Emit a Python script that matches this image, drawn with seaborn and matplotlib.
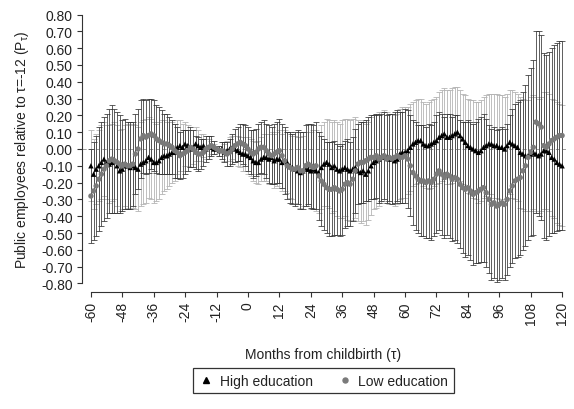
import numpy as np
import pandas as pd
import matplotlib
matplotlib.use("Agg")
import matplotlib.pyplot as plt
from matplotlib.lines import Line2D
import seaborn as sns

# Months from childbirth (tau = -60 ... 120)
months = list(range(-60, 121))

# High education: point estimates
high_est = [
    -0.10, -0.15, -0.12, -0.10, -0.08, -0.06, -0.08, -0.09, -0.08, -0.07, -0.10, -0.13,
    -0.12, -0.10, -0.10, -0.11, -0.10, -0.11, -0.12, -0.09, -0.08, -0.07, -0.05, -0.06,
    -0.08, -0.08, -0.07, -0.05, -0.04, -0.04, -0.03, -0.02, -0.02, 0.01, 0.02, 0.01,
    0.03, 0.02, 0.00, 0.01, 0.03, 0.02, 0.01, 0.02, 0.00, 0.01, 0.01, 0.00,
    0.00, -0.01, 0.00, -0.02, -0.01, 0.00, 0.01, 0.00, -0.01, -0.02, -0.03, -0.03,
    -0.04, -0.05, -0.07, -0.08, -0.08, -0.06, -0.05, -0.05, -0.06, -0.05, -0.07, -0.06,
    -0.06, -0.08, -0.07, -0.08, -0.10, -0.11, -0.12, -0.13, -0.14, -0.13, -0.12, -0.12,
    -0.13, -0.12, -0.13, -0.14, -0.11, -0.09, -0.08, -0.09, -0.11, -0.10, -0.12, -0.13,
    -0.12, -0.11, -0.12, -0.13, -0.12, -0.11, -0.13, -0.14, -0.13, -0.15, -0.13, -0.10,
    -0.08, -0.07, -0.06, -0.05, -0.04, -0.05, -0.06, -0.06, -0.07, -0.06, -0.03, -0.02,
    -0.02, -0.01, 0.01, 0.03, 0.04, 0.05, 0.05, 0.03, 0.02, 0.02, 0.03, 0.04,
    0.05, 0.07, 0.08, 0.09, 0.07, 0.07, 0.08, 0.09, 0.10, 0.08, 0.06, 0.04,
    0.02, 0.01, 0.00, -0.01, -0.02, -0.01, 0.01, 0.02, 0.03, 0.03, 0.02, 0.02,
    0.01, 0.01, 0.00, 0.02, 0.04, 0.03, 0.02, 0.01, -0.02, -0.03, -0.04, -0.04,
    -0.03, -0.02, -0.03, -0.04, -0.03, -0.01, -0.01, -0.02, -0.05, -0.06, -0.08, -0.09,
    -0.10,
]

# High education: half-width of the confidence interval
high_ci = [
    0.21, 0.21, 0.21, 0.21, 0.22, 0.22, 0.22, 0.23, 0.23, 0.23, 0.24, 0.24,
    0.24, 0.24, 0.25, 0.25, 0.25, 0.25, 0.25, 0.25, 0.25, 0.25, 0.24, 0.24,
    0.24, 0.23, 0.23, 0.22, 0.21, 0.20, 0.19, 0.18, 0.17, 0.16, 0.15, 0.14,
    0.13, 0.12, 0.11, 0.10, 0.10, 0.09, 0.08, 0.07, 0.06, 0.05, 0.04, 0.03,
    0.00, 0.03, 0.04, 0.05, 0.06, 0.07, 0.07, 0.08, 0.09, 0.09, 0.10, 0.10,
    0.11, 0.11, 0.12, 0.12, 0.13, 0.13, 0.14, 0.14, 0.15, 0.15, 0.16, 0.16,
    0.17, 0.17, 0.18, 0.18, 0.19, 0.19, 0.20, 0.20, 0.21, 0.21, 0.22, 0.22,
    0.23, 0.23, 0.24, 0.24, 0.25, 0.25, 0.26, 0.26, 0.27, 0.27, 0.28, 0.28,
    0.29, 0.29, 0.30, 0.30, 0.30, 0.30, 0.30, 0.30, 0.30, 0.30, 0.29, 0.29,
    0.28, 0.28, 0.28, 0.27, 0.27, 0.27, 0.27, 0.27, 0.27, 0.27, 0.27, 0.27,
    0.27, 0.26, 0.26, 0.25, 0.25, 0.25, 0.25, 0.25, 0.25, 0.26, 0.26, 0.26,
    0.26, 0.27, 0.27, 0.27, 0.28, 0.28, 0.28, 0.28, 0.27, 0.27, 0.27, 0.28,
    0.28, 0.28, 0.29, 0.29, 0.30, 0.30, 0.30, 0.30, 0.30, 0.30, 0.31, 0.31,
    0.31, 0.31, 0.31, 0.31, 0.31, 0.32, 0.32, 0.32, 0.33, 0.33, 0.33, 0.33,
    0.34, 0.34, 0.34, 0.34, 0.34, 0.35, 0.35, 0.35, 0.35, 0.35, 0.36, 0.36,
    0.36,
]

# Low education: point estimates
low_est = [
    -0.28, -0.25, -0.22, -0.18, -0.15, -0.12, -0.10, -0.07, -0.06, -0.07, -0.08, -0.09,
    -0.10, -0.09, -0.10, -0.10, -0.09, -0.03, 0.00, 0.06, 0.08, 0.07, 0.08, 0.09,
    0.08, 0.06, 0.05, 0.04, 0.03, 0.03, 0.02, 0.01, -0.01, -0.02, -0.04, -0.03,
    -0.02, -0.01, 0.01, 0.00, -0.02, -0.03, -0.03, -0.02, 0.00, 0.01, 0.02, 0.01,
    0.00, -0.01, -0.01, -0.02, -0.03, -0.02, 0.00, 0.02, 0.03, 0.04, 0.03, 0.02,
    0.00, -0.02, -0.03, -0.02, 0.00, 0.01, 0.01, -0.01, -0.03, -0.04, -0.03, -0.02,
    -0.01, -0.04, -0.07, -0.10, -0.11, -0.12, -0.12, -0.11, -0.13, -0.13, -0.10, -0.09,
    -0.10, -0.11, -0.10, -0.16, -0.19, -0.21, -0.23, -0.24, -0.24, -0.23, -0.24, -0.25,
    -0.24, -0.21, -0.20, -0.21, -0.18, -0.13, -0.09, -0.08, -0.08, -0.07, -0.06, -0.05,
    -0.05, -0.04, -0.06, -0.05, -0.04, -0.06, -0.05, -0.06, -0.05, -0.04, -0.05, -0.05,
    -0.04, -0.06, -0.10, -0.14, -0.16, -0.18, -0.19, -0.19, -0.20, -0.19, -0.20, -0.18,
    -0.15, -0.13, -0.15, -0.17, -0.15, -0.16, -0.18, -0.17, -0.18, -0.21, -0.23, -0.24,
    -0.23, -0.25, -0.27, -0.26, -0.25, -0.24, -0.23, -0.26, -0.30, -0.33, -0.32, -0.34,
    -0.33, -0.32, -0.33, -0.30, -0.25, -0.22, -0.19, -0.18, -0.17, -0.13, -0.10, -0.05,
    -0.02, 0.01, 0.16, 0.15, 0.13, 0.02, 0.01, 0.03, 0.05, 0.06, 0.07, 0.08,
    0.08,
]

# Low education: half-width of the confidence interval
low_ci = [
    0.28, 0.29, 0.30, 0.31, 0.31, 0.31, 0.31, 0.31, 0.32, 0.31, 0.30, 0.29,
    0.27, 0.27, 0.26, 0.26, 0.25, 0.24, 0.24, 0.23, 0.22, 0.22, 0.22, 0.21,
    0.21, 0.20, 0.20, 0.19, 0.18, 0.18, 0.17, 0.16, 0.16, 0.15, 0.14, 0.14,
    0.13, 0.12, 0.12, 0.11, 0.10, 0.10, 0.09, 0.08, 0.08, 0.07, 0.06, 0.04,
    0.00, 0.03, 0.05, 0.06, 0.07, 0.08, 0.09, 0.10, 0.10, 0.11, 0.12, 0.12,
    0.13, 0.13, 0.14, 0.14, 0.15, 0.15, 0.16, 0.16, 0.17, 0.17, 0.18, 0.18,
    0.19, 0.19, 0.20, 0.20, 0.21, 0.21, 0.22, 0.22, 0.23, 0.23, 0.24, 0.24,
    0.25, 0.25, 0.26, 0.26, 0.27, 0.27, 0.27, 0.28, 0.28, 0.28, 0.27, 0.27,
    0.27, 0.26, 0.26, 0.25, 0.25, 0.25, 0.24, 0.24, 0.24, 0.24, 0.25, 0.25,
    0.25, 0.25, 0.26, 0.26, 0.26, 0.26, 0.26, 0.27, 0.27, 0.27, 0.27, 0.27,
    0.28, 0.29, 0.30, 0.31, 0.32, 0.32, 0.33, 0.33, 0.33, 0.34, 0.34, 0.34,
    0.35, 0.35, 0.36, 0.36, 0.36, 0.37, 0.37, 0.37, 0.38, 0.38, 0.39, 0.40,
    0.40, 0.41, 0.42, 0.42, 0.43, 0.43, 0.44, 0.44, 0.44, 0.45, 0.45, 0.45,
    0.45, 0.45, 0.45, 0.45, 0.45, 0.46, 0.46, 0.46, 0.46, 0.47, 0.48, 0.49,
    0.50, 0.52, 0.54, 0.55, 0.55, 0.55, 0.55, 0.55, 0.55, 0.56, 0.56, 0.56,
    0.56,
]

series_names = ["High education", "Low education"]
x_ticks = list(range(-60, 121, 12))
y_ticks = [-0.80, -0.70, -0.60, -0.50, -0.40, -0.30, -0.20, -0.10, 0.00,
           0.10, 0.20, 0.30, 0.40, 0.50, 0.60, 0.70, 0.80]

assert len(high_est) == len(months) == len(low_est) == len(high_ci) == len(low_ci)

df = pd.DataFrame({
    "month": months * 2,
    "value": high_est + low_est,
    "ci": high_ci + low_ci,
    "group": [series_names[0]] * len(months) + [series_names[1]] * len(months),
})

sns.set_theme(style="ticks")
plt.rcParams["font.family"] = ["Liberation Sans", "DejaVu Sans"]
plt.rcParams["mathtext.fontset"] = "custom"
plt.rcParams["mathtext.rm"] = "Liberation Sans"
plt.rcParams["mathtext.it"] = "Liberation Sans:italic"

fig = plt.figure(figsize=(5.74, 4.10), dpi=100)
ax = fig.add_axes([0.1429, 0.2854, 0.8432, 0.6902])

ax.axhline(0, color="#8a8a8a", lw=0.6, ls=(0, (5, 3)), zorder=1)

err_colors = {"High education": "#b4b4b4", "Low education": "#333333"}
err_widths = {"High education": 0.6, "Low education": 0.55}
for name, z in [("High education", 2), ("Low education", 3)]:
    sub = df[df["group"] == name]
    ax.errorbar(sub["month"], sub["value"], yerr=sub["ci"], fmt="none",
                ecolor=err_colors[name], elinewidth=err_widths[name],
                capsize=2.3, capthick=err_widths[name], zorder=z)

sns.scatterplot(data=df, x="month", y="value", hue="group", style="group",
                hue_order=series_names[::-1], style_order=series_names[::-1],
                markers={"High education": "^", "Low education": "o"},
                palette={"High education": "black", "Low education": "#7a7a7a"},
                s=15, linewidth=0, legend=False, ax=ax, zorder=4)

ax.set_xlim(-63.4, 121.5)
ax.set_ylim(-0.851, 0.833)
ax.set_xticks(x_ticks)
ax.set_xticklabels([str(t) for t in x_ticks], rotation=90)
ax.set_yticks(y_ticks)
ax.set_yticklabels([f"{t:.2f}" for t in y_ticks])

for s in ["top", "right"]:
    ax.spines[s].set_visible(False)
ax.spines["left"].set_bounds(-0.8, 0.8)
ax.spines["bottom"].set_bounds(-60, 120)
for s in ["left", "bottom"]:
    ax.spines[s].set_color("#333333")
    ax.spines[s].set_linewidth(0.8)

ax.tick_params(axis="both", direction="out", length=3.6, width=0.8,
               color="#333333", labelcolor="#222222", labelsize=10, pad=3)

ax.set_xlabel("Months from childbirth (τ)", fontsize=10, color="#222222")
ax.set_ylabel("Public employees relative to τ=-12 (P$_\\mathregular{τ}$)",
              fontsize=10, color="#222222")
ax.xaxis.set_label_coords(0.498, -0.219)
ax.xaxis.label.set_va("center")
ax.yaxis.set_label_coords(-0.124, 0.505)
ax.yaxis.label.set_va("center")

handles = [
    Line2D([], [], marker="^", color="black", ls="none", ms=4.2),
    Line2D([], [], marker="o", color="#7a7a7a", ls="none", ms=3.6),
]
leg = fig.legend(handles, series_names, loc="center",
                 bbox_to_anchor=(0.5636, 0.0695), ncol=2, frameon=True,
                 fancybox=False, edgecolor="black", fontsize=10,
                 handlelength=1.0, handletextpad=0.5, columnspacing=1.8,
                 borderpad=0.4)
leg.get_frame().set_linewidth(0.9)
for t in leg.get_texts():
    t.set_color("#222222")

fig.savefig("out.png", dpi=100)
